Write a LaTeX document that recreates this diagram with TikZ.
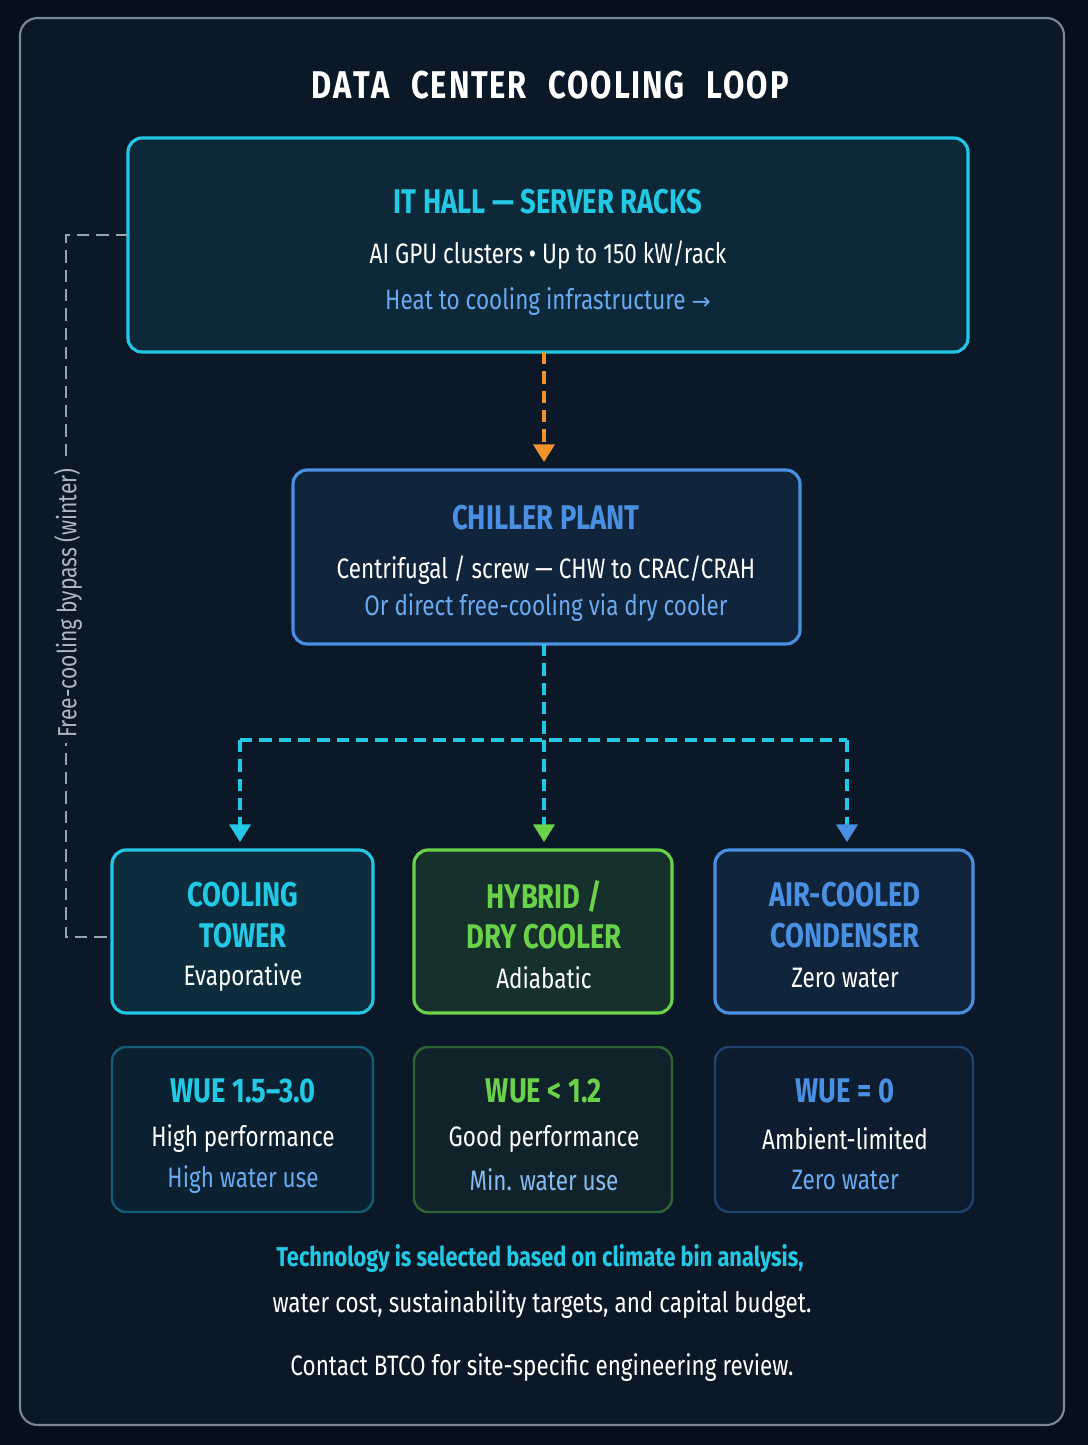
\documentclass[tikz,border=0pt]{standalone}
\usepackage{fontspec}
\setmainfont{Fira Sans}[FakeStretch=0.8]
\usetikzlibrary{arrows.meta}
\definecolor{pagebg}{HTML}{06101C}
\definecolor{framebg}{HTML}{0A1828}
\definecolor{framedr}{HTML}{7A8898}
\definecolor{cyanc}{HTML}{22C8E4}
\definecolor{bluec}{HTML}{4A90E2}
\definecolor{greenc}{HTML}{6AD24A}
\definecolor{orangec}{HTML}{F0922A}
\definecolor{softblue}{HTML}{6AAAF0}
\definecolor{grayline}{HTML}{9AA4B0}
\tikzset{
  box/.style={draw, rounded corners=8pt, line width=1.8pt},
  head/.style={font=\bfseries\fontsize{19.5}{23}\selectfont, align=center},
  body/.style={text=white, font=\fontsize{16}{19}\selectfont},
  flow/.style={dashed, dash pattern=on 7pt off 4pt, line width=1.9pt},
  tip/.style={-{Triangle[length=10pt,width=12pt]}}
}
\begin{document}
\begin{tikzpicture}[x=0.02cm,y=-0.02cm]
  \fill[pagebg] (0,0) rectangle (1088,1445);
  \useasboundingbox (0,0) rectangle (1088,1445);
  \draw[framedr, fill=framebg, rounded corners=10pt, line width=1.2pt] (20,18) rectangle (1064,1425);
  \node[text=white, font=\bfseries\fontsize{22}{26}\selectfont] (title) at (550,85) {D\kern1pt A\kern1pt T\kern1pt A\;\;C\kern1pt E\kern1pt N\kern1pt T\kern1pt E\kern1pt R\;\;C\kern1pt O\kern1pt O\kern1pt L\kern1pt I\kern1pt N\kern1pt G\;\;L\kern1pt O\kern1pt O\kern1pt P};

  % IT hall
  \draw[box, cyanc, fill=cyanc!9!framebg] (128,138) rectangle (968,352);
  \coordinate (hallS) at (544,352);
  \coordinate (hallW) at (128,235);
  \node[head, text=cyanc] (hall) at (548,202) {IT HALL — SERVER RACKS};
  \node[body] (hallA) at (548,255) {AI GPU clusters • Up to 150 kW/rack};
  \node[body, text=softblue] (hallB) at (548,302) {Heat to cooling infrastructure \fontspec{DejaVu Sans}\fontsize{13}{15}\selectfont →};

  % chiller
  \draw[box, bluec, fill=bluec!10!framebg] (293,470) rectangle (800,644);
  \coordinate (chilN) at (544,462);
  \coordinate (chilS) at (544,644);
  \node[head, text=bluec] (chil) at (546,518) {CHILLER PLANT};
  \node[body] (chilA) at (546,570) {Centrifugal / screw — CHW to CRAC/CRAH};
  \node[body, text=softblue] (chilB) at (546,608) {Or direct free-cooling via dry cooler};

  \draw[flow, orangec, tip] (hallS) -- (chilN);

  % branches
  \coordinate (split) at (544,740);
  \coordinate (splitL) at (240,740);
  \coordinate (splitR) at (847,740);
  \draw[flow, cyanc] (chilS) -- (split);
  \draw[flow, cyanc] (splitL) -- (splitR);
  \coordinate (towN) at (240,842);
  \coordinate (hybN) at (544,842);
  \coordinate (airN) at (847,842);
  \draw[flow, cyanc, tip] (splitL) -- (towN);
  \draw[flow, cyanc, -{Triangle[length=10pt,width=12pt,fill=greenc,color=greenc]}] (split) -- (hybN);
  \draw[flow, cyanc, -{Triangle[length=10pt,width=12pt,fill=bluec,color=bluec]}] (splitR) -- (airN);

  % technology boxes
  \draw[box, cyanc, fill=cyanc!12!framebg] (112,850) rectangle (373,1013);
  \draw[box, greenc, fill=greenc!13!framebg] (414,850) rectangle (672,1013);
  \draw[box, bluec, fill=bluec!10!framebg] (715,850) rectangle (973,1013);
  \node[head, text=cyanc] (tow) at (243,915) {COOLING\\TOWER};
  \node[head, text=greenc] (hyb) at (544,915) {HYBRID /\\DRY COOLER};
  \node[head, text=bluec] (air) at (845,915) {AIR-COOLED\\CONDENSER};
  \node[body] (towA) at (243,978) {Evaporative};
  \node[body] (hybA) at (544,978) {Adiabatic};
  \node[body] (airA) at (845,978) {Zero water};

  % WUE boxes
  \draw[box, line width=1.4pt, cyanc!40!framebg, fill=cyanc!5!framebg] (112,1047) rectangle (373,1212);
  \draw[box, line width=1.4pt, greenc!40!framebg, fill=greenc!6!framebg] (414,1047) rectangle (672,1212);
  \draw[box, line width=1.4pt, bluec!35!framebg, fill=bluec!4!framebg] (715,1047) rectangle (973,1212);
  \node[head, text=cyanc] (wueT) at (243,1091) {WUE 1.5–3.0};
  \node[head, text=greenc] (wueH) at (544,1091) {WUE < 1.2};
  \node[head, text=bluec] (wueA) at (845,1091) {WUE = 0};
  \node[body] (wueTa) at (243,1139) {High performance};
  \node[body] (wueHa) at (544,1139) {Good performance};
  \node[body] (wueAa) at (845,1139) {Ambient-limited};
  \node[body, text=softblue] (wueTb) at (243,1180) {High water use};
  \node[body, text=softblue!80!white] (wueHb) at (544,1180) {Min. water use};
  \node[body, text=softblue] (wueAb) at (845,1180) {Zero water};

  % bypass
  \coordinate (towW) at (112,937);
  \draw[flow, grayline, line width=1.6pt] (hallW) -- (66,235) -- (66,937) -- (towW);
  \node[fill=framebg, text=grayline!80!white, rotate=90, font=\fontsize{15}{18}\selectfont, inner sep=3pt] (bypass) at (68,603) {Free-cooling bypass (winter)};

  % footer
  \node[text=cyanc, font=\bfseries\fontsize{15.5}{18}\selectfont] (noteA) at (540,1258) {Technology is selected based on climate bin analysis,};
  \node[body] (noteB) at (542,1305) {water cost, sustainability targets, and capital budget.};
  \node[body] (noteC) at (542,1368) {Contact BTCO for site-specific engineering review.};
\end{tikzpicture}
\end{document}
